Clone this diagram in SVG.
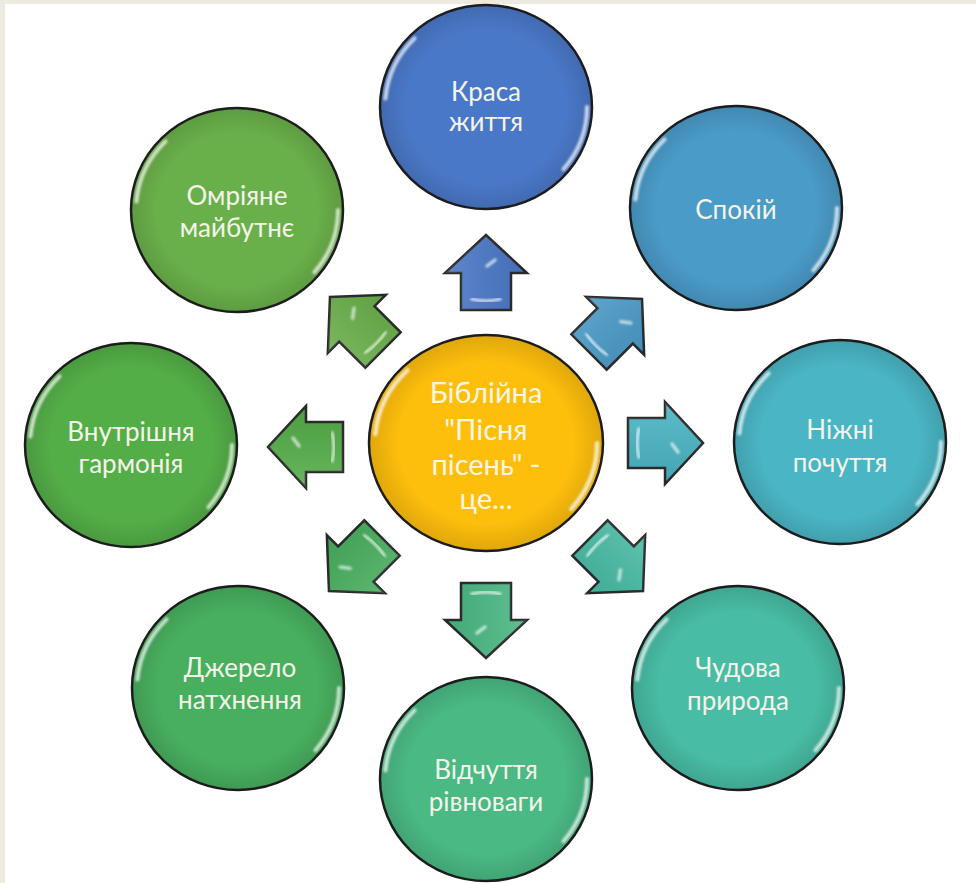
<svg xmlns="http://www.w3.org/2000/svg" xmlns:xlink="http://www.w3.org/1999/xlink" width="976" height="883" viewBox="0 0 976 883">
<style>
.node-shape{stroke:#1e1e1e;stroke-width:2.5}
.arrow{stroke:#2a2a2a;stroke-width:2.5;stroke-linejoin:miter}
.hl{fill:none;stroke:#ffffff;stroke-opacity:0.7;stroke-width:4;stroke-linecap:round;filter:url(#soft)}
.ahl{fill:none;stroke:#ffffff;stroke-opacity:0.65;stroke-width:3.5;stroke-linecap:round;filter:url(#soft)}
.lbl{font-family:Lato,"Liberation Sans",sans-serif;font-size:26px;fill:#F4F4EA;text-anchor:middle}
.clbl{font-family:Lato,"Liberation Sans",sans-serif;font-size:29px;fill:#FBF6E4;text-anchor:middle}
</style>
<defs>
<filter id="soft" x="-50%" y="-50%" width="200%" height="200%"><feGaussianBlur stdDeviation="1"/></filter>
<radialGradient id="shade" cx="0.5" cy="0.5" r="0.5">
<stop offset="0.75" stop-color="#000" stop-opacity="0"/>
<stop offset="1" stop-color="#000" stop-opacity="0.12"/>
</radialGradient>
<linearGradient id="ashade" x1="0" y1="0" x2="0" y2="1">
<stop offset="0" stop-color="#fff" stop-opacity="0.12"/>
<stop offset="1" stop-color="#000" stop-opacity="0.08"/>
</linearGradient>
<polygon id="arr" points="0,-25 37,-25 37,-41 75,0 37,41 37,25 0,25"/>
<path id="hlL" d="M -100.6 -8.4 A 101 97 0 0 1 -71.4 -68.6"/>
<path id="hlR" d="M 101 0 A 101 97 0 0 1 77.4 62.3"/>
<path id="ahl1" d="M 11 -14 Q 7 0 11 14"/>
<path id="ahl2" d="M 44 1 L 50 9"/>
</defs>
<rect x="0" y="0" width="976" height="883" fill="#EDEBE0"/>
<rect x="5" y="4" width="971" height="879" fill="#FFFFFF"/>

<g id="connectors">
<g transform="translate(486,310) rotate(-90)"><use xlink:href="#arr" class="arrow" fill="#4A78C8"/><use xlink:href="#arr" fill="url(#ashade)"/><use xlink:href="#ahl1" class="ahl"/><use xlink:href="#ahl2" class="ahl"/></g>
<g transform="translate(589,352) rotate(-45)"><use xlink:href="#arr" class="arrow" fill="#4A9BC8"/><use xlink:href="#arr" fill="url(#ashade)"/><use xlink:href="#ahl1" class="ahl"/><use xlink:href="#ahl2" class="ahl"/></g>
<g transform="translate(628,443)"><use xlink:href="#arr" class="arrow" fill="#4AB5C4"/><use xlink:href="#arr" fill="url(#ashade)"/><use xlink:href="#ahl1" class="ahl"/><use xlink:href="#ahl2" class="ahl"/></g>
<g transform="translate(590,538) rotate(45)"><use xlink:href="#arr" class="arrow" fill="#48BCA4"/><use xlink:href="#arr" fill="url(#ashade)"/><use xlink:href="#ahl1" class="ahl"/><use xlink:href="#ahl2" class="ahl"/></g>
<g transform="translate(486,583) rotate(90)"><use xlink:href="#arr" class="arrow" fill="#4AB984"/><use xlink:href="#arr" fill="url(#ashade)"/><use xlink:href="#ahl1" class="ahl"/><use xlink:href="#ahl2" class="ahl"/></g>
<g transform="translate(382,538) rotate(135)"><use xlink:href="#arr" class="arrow" fill="#48AF5E"/><use xlink:href="#arr" fill="url(#ashade)"/><use xlink:href="#ahl1" class="ahl"/><use xlink:href="#ahl2" class="ahl"/></g>
<g transform="translate(343,447) rotate(180)"><use xlink:href="#arr" class="arrow" fill="#54AE48"/><use xlink:href="#arr" fill="url(#ashade)"/><use xlink:href="#ahl1" class="ahl"/><use xlink:href="#ahl2" class="ahl"/></g>
<g transform="translate(383,350) rotate(-135)"><use xlink:href="#arr" class="arrow" fill="#6AB04A"/><use xlink:href="#arr" fill="url(#ashade)"/><use xlink:href="#ahl1" class="ahl"/><use xlink:href="#ahl2" class="ahl"/></g>
</g>

<g id="center">
<ellipse cx="486" cy="443" rx="117" ry="108" class="node-shape" fill="#FDBE0C"/>
<ellipse cx="486" cy="443" rx="117" ry="108" fill="url(#shade)"/>
<g transform="translate(486,443) scale(1.1,1.06)"><use xlink:href="#hlL" class="hl"/><use xlink:href="#hlR" class="hl"/></g>
<text class="clbl" x="486" y="403">Біблійна</text>
<text class="clbl" x="486" y="440">"Пісня</text>
<text class="clbl" x="486" y="475">пісень" -</text>
<text class="clbl" x="486" y="509">це...</text>
</g>

<g id="n-krasa">
<ellipse cx="486" cy="107" rx="106" ry="102" class="node-shape" fill="#4A78C8"/>
<ellipse cx="486" cy="107" rx="106" ry="102" fill="url(#shade)"/>
<g transform="translate(486,107)"><use xlink:href="#hlL" class="hl"/><use xlink:href="#hlR" class="hl"/></g>
<text class="lbl" x="486" y="101">Краса</text>
<text class="lbl" x="486" y="131">життя</text>
</g>

<g id="n-spokii">
<ellipse cx="736" cy="208" rx="106" ry="102" class="node-shape" fill="#4A9BC8"/>
<ellipse cx="736" cy="208" rx="106" ry="102" fill="url(#shade)"/>
<g transform="translate(736,208)"><use xlink:href="#hlL" class="hl"/><use xlink:href="#hlR" class="hl"/></g>
<text class="lbl" x="736" y="219">Спокій</text>
</g>

<g id="n-nizhni">
<ellipse cx="840" cy="442" rx="106" ry="102" class="node-shape" fill="#4AB5C4"/>
<ellipse cx="840" cy="442" rx="106" ry="102" fill="url(#shade)"/>
<g transform="translate(840,442)"><use xlink:href="#hlL" class="hl"/><use xlink:href="#hlR" class="hl"/></g>
<text class="lbl" x="840" y="439">Ніжні</text>
<text class="lbl" x="840" y="472">почуття</text>
</g>

<g id="n-chudova">
<ellipse cx="738" cy="688" rx="106" ry="102" class="node-shape" fill="#48BCA4"/>
<ellipse cx="738" cy="688" rx="106" ry="102" fill="url(#shade)"/>
<g transform="translate(738,688)"><use xlink:href="#hlL" class="hl"/><use xlink:href="#hlR" class="hl"/></g>
<text class="lbl" x="738" y="677">Чудова</text>
<text class="lbl" x="738" y="710">природа</text>
</g>

<g id="n-vidchuttia">
<ellipse cx="486" cy="779" rx="106" ry="102" class="node-shape" fill="#4AB984"/>
<ellipse cx="486" cy="779" rx="106" ry="102" fill="url(#shade)"/>
<g transform="translate(486,779)"><use xlink:href="#hlL" class="hl"/><use xlink:href="#hlR" class="hl"/></g>
<text class="lbl" x="486" y="779">Відчуття</text>
<text class="lbl" x="486" y="811">рівноваги</text>
</g>

<g id="n-dzherelo">
<ellipse cx="238" cy="688" rx="106" ry="102" class="node-shape" fill="#48AF5E"/>
<ellipse cx="238" cy="688" rx="106" ry="102" fill="url(#shade)"/>
<g transform="translate(238,688)"><use xlink:href="#hlL" class="hl"/><use xlink:href="#hlR" class="hl"/></g>
<text class="lbl" x="240" y="677">Джерело</text>
<text class="lbl" x="240" y="709">натхнення</text>
</g>

<g id="n-vnutrishnia">
<ellipse cx="131" cy="445" rx="106" ry="102" class="node-shape" fill="#54AE48"/>
<ellipse cx="131" cy="445" rx="106" ry="102" fill="url(#shade)"/>
<g transform="translate(131,445)"><use xlink:href="#hlL" class="hl"/><use xlink:href="#hlR" class="hl"/></g>
<text class="lbl" x="131" y="441">Внутрішня</text>
<text class="lbl" x="131" y="473">гармонія</text>
</g>

<g id="n-omriiane">
<ellipse cx="237" cy="210" rx="106" ry="102" class="node-shape" fill="#6AB04A"/>
<ellipse cx="237" cy="210" rx="106" ry="102" fill="url(#shade)"/>
<g transform="translate(237,210)"><use xlink:href="#hlL" class="hl"/><use xlink:href="#hlR" class="hl"/></g>
<text class="lbl" x="237" y="205">Омріяне</text>
<text class="lbl" x="237" y="237">майбутнє</text>
</g>
</svg>
